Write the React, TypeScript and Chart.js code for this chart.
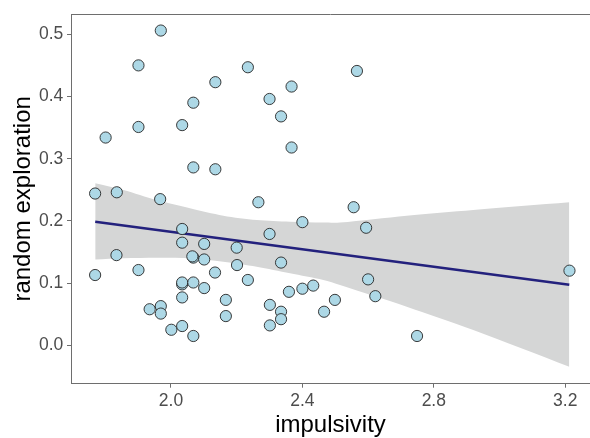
import React, { useEffect, useRef } from "react";
import { Chart, registerables } from "chart.js";

Chart.register(...registerables);

const impulsivity = [
  1.969, 1.901, 2.234, 2.566, 2.135, 2.367, 2.3, 2.068, 2.335, 2.034,
  1.901, 1.801, 2.367, 2.068, 2.135, 1.769, 1.835, 1.967, 2.266, 2.556,
  2.4, 2.594, 2.034, 2.3, 2.034, 2.101, 2.2, 1.834, 2.068, 2.065,
  2.101, 2.335, 2.201, 1.901, 1.769, 2.134, 3.213, 2.6, 2.234, 2.034,
  2.034, 2.068, 2.101, 2.359, 2.4, 2.433, 2.622, 2.034, 2.167, 2.499,
  2.301, 1.969, 1.935, 1.969, 2.335, 2.466, 2.167, 2.335, 2.301, 2.034,
  2.001, 2.068, 2.749,
];
const randomExploration = [
  0.506, 0.45, 0.447, 0.441, 0.423, 0.416, 0.396, 0.39, 0.368, 0.354,
  0.351, 0.334, 0.318, 0.286, 0.283, 0.244, 0.246, 0.235, 0.23, 0.222,
  0.198, 0.189, 0.187, 0.179, 0.165, 0.163, 0.157, 0.145, 0.141, 0.143,
  0.138, 0.133, 0.129, 0.121, 0.113, 0.117, 0.12, 0.106, 0.105, 0.098,
  0.101, 0.101, 0.092, 0.086, 0.091, 0.096, 0.079, 0.077, 0.073, 0.073,
  0.065, 0.063, 0.058, 0.051, 0.054, 0.054, 0.047, 0.042, 0.032, 0.031,
  0.025, 0.015, 0.015,
];

const fitX = [1.7693, 3.2125];
const fitY = [0.1987, 0.0975];

const bandX = [1.7693, 1.8548, 1.9565, 2.0578, 2.1592, 2.2609, 2.3623, 2.4636, 2.5145, 2.7175, 2.9202, 3.2125];
const bandUpper = [0.2605, 0.2497, 0.2335, 0.2203, 0.2084, 0.2014, 0.1987, 0.1974, 0.1974, 0.2084, 0.2175, 0.2299];
const bandLower = [0.1379, 0.1399, 0.1408, 0.1399, 0.1344, 0.1264, 0.1158, 0.105, 0.0969, 0.0621, 0.0246, -0.0344];

const xTicks = [2.0, 2.4, 2.8, 3.2];
const yTicks = [0.0, 0.1, 0.2, 0.3, 0.4, 0.5];

const FONT = "'Liberation Sans', Arial, sans-serif";
const AXIS_COLOR = "#6e6e6e";

const topBorder = {
  id: "topBorder",
  afterDraw(chart: any) {
    const { ctx, chartArea } = chart;
    ctx.save();
    ctx.strokeStyle = AXIS_COLOR;
    ctx.lineWidth = 1;
    ctx.beginPath();
    ctx.moveTo(chartArea.left, Math.round(chartArea.top) + 0.5);
    ctx.lineTo(chartArea.right, Math.round(chartArea.top) + 0.5);
    ctx.stroke();
    ctx.restore();
  },
};

export default function App() {
  const ref = useRef<HTMLCanvasElement | null>(null);

  useEffect(() => {
    document.body.style.margin = "0";
    if (!ref.current) return;
    const points = impulsivity.map((x, i) => ({ x, y: randomExploration[i] }));
    const fit = fitX.map((x, i) => ({ x, y: fitY[i] }));
    const upper = bandX.map((x, i) => ({ x, y: bandUpper[i] }));
    const lower = bandX.map((x, i) => ({ x, y: bandLower[i] }));

    const chart = new Chart(ref.current, {
      type: "scatter",
      data: {
        datasets: [
          {
            data: points,
            backgroundColor: "#ADD8E6",
            borderColor: "#262626",
            borderWidth: 0.9,
            pointRadius: 5.6,
            order: 0,
          } as any,
          {
            data: fit,
            showLine: true,
            borderColor: "#23217d",
            borderWidth: 2.6,
            pointRadius: 0,
            order: 1,
          } as any,
          {
            data: upper,
            showLine: true,
            borderWidth: 0,
            borderColor: "rgba(0,0,0,0)",
            backgroundColor: "#D5D6D6",
            pointRadius: 0,
            fill: "+1",
            tension: 0.3,
            order: 2,
          } as any,
          {
            data: lower,
            showLine: true,
            borderWidth: 0,
            borderColor: "rgba(0,0,0,0)",
            pointRadius: 0,
            fill: false,
            tension: 0.3,
            order: 3,
          } as any,
        ],
      },
      options: {
        animation: false,
        responsive: false,
        devicePixelRatio: 1,
        layout: { autoPadding: false, padding: { left: 0, top: 14, right: 0, bottom: 0 } },
        plugins: {
          legend: { display: false },
          tooltip: { enabled: false },
        },
        scales: {
          x: {
            type: "linear",
            min: 1.6956,
            max: 3.2755,
            afterBuildTicks: (scale: any) => {
              scale.ticks = xTicks.map((v) => ({ value: v }));
            },
            afterFit: (scale: any) => {
              scale.height = 54.3;
              scale.paddingRight = 0;
              scale.paddingLeft = 0;
            },
            ticks: {
              callback: (v: any) => Number(v).toFixed(1),
              color: "#4d4d4d",
              font: { family: FONT, size: 17.5 },
              padding: 3,
              maxRotation: 0,
            },
            grid: { drawOnChartArea: false, drawTicks: true, tickLength: 4, color: AXIS_COLOR },
            border: { display: true, color: AXIS_COLOR, width: 1 },
            title: {
              display: true,
              text: "impulsivity",
              color: "#000",
              font: { family: FONT, size: 24, lineHeight: 1 },
              padding: { top: 0, bottom: 1 },
            },
          },
          y: {
            type: "linear",
            min: -0.0617,
            max: 0.5326,
            afterBuildTicks: (scale: any) => {
              scale.ticks = yTicks.map((v) => ({ value: v }));
            },
            afterFit: (scale: any) => {
              scale.width = 71;
              scale.paddingTop = 0;
              scale.paddingBottom = 0;
            },
            ticks: {
              callback: (v: any) => Number(v).toFixed(1),
              color: "#4d4d4d",
              font: { family: FONT, size: 17.5 },
              padding: 3.7,
            },
            grid: { drawOnChartArea: false, drawTicks: true, tickLength: 4, color: AXIS_COLOR },
            border: { display: true, color: AXIS_COLOR, width: 1 },
            title: {
              display: true,
              text: "random exploration",
              color: "#000",
              font: { family: FONT, size: 24, lineHeight: 1 },
              padding: { top: 11.5, bottom: 0 },
            },
          },
        },
      },
      plugins: [topBorder],
    });
    return () => chart.destroy();
  }, []);

  return (
    <div style={{ position: "fixed", left: 0, top: 0, width: 590, height: 438 }}>
      <canvas ref={ref} width={590} height={438} style={{ display: "block", width: 590, height: 438 }} />
    </div>
  );
}
